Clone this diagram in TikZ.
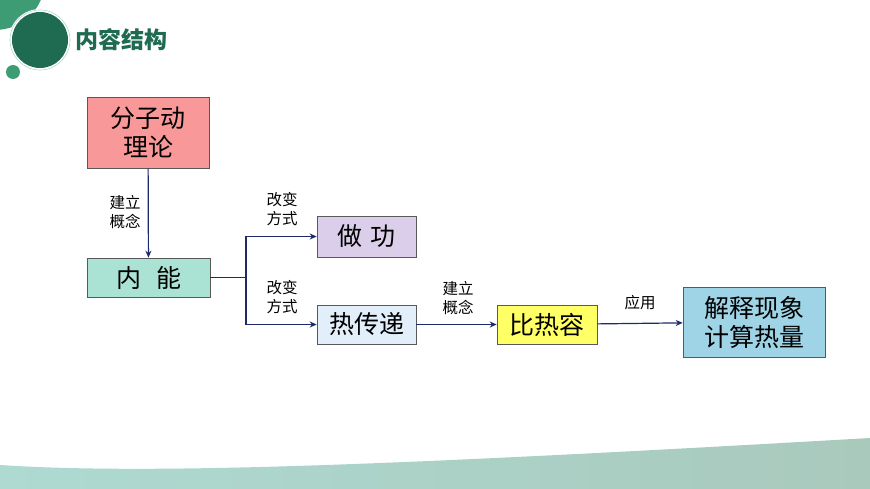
\documentclass[tikz,border=0pt]{standalone}
\usepackage{fontspec}
\setmainfont{Noto Sans CJK SC}
\usetikzlibrary{arrows.meta}
\definecolor{dg}{HTML}{1E6B52}
\definecolor{lg}{HTML}{3E9C74}
\definecolor{nv}{HTML}{1F2A6B}
\definecolor{w1}{HTML}{AEDAD2}
\definecolor{w2}{HTML}{A9C9BC}
\tikzset{
 box/.style={draw=gray!70!black,line width=0.6pt,minimum width=#1,inner sep=0pt,font=\fontsize{25}{29}\selectfont,align=center},
 arr/.style={nv,line width=1.2pt,-{Stealth[length=7pt,width=6pt]}},
 lbl/.style={font=\fontsize{15.5}{19}\selectfont,align=center}
}
\begin{document}
\begin{tikzpicture}[x=1pt,y=-1pt]
\useasboundingbox (0,0) rectangle (870,489);
\fill[white] (0,0) rectangle (870,489);
% header
\fill[lg] (-5,-20) circle[radius=50];
\fill[white] (40,40) circle[radius=31];
\fill[dg] (40,40) circle[radius=28];
\draw[white!60!lg,line width=0.6pt] (40,40) circle[radius=30];
\fill[lg] (13,72) circle[radius=7];
\node[anchor=west,text=dg,font=\fontsize{23}{26}\selectfont\bfseries] (title) at (72,40) {内容结构};
% bottom wave
\shade[left color=w1, right color=w2] (0,465) .. controls (150,475) and (400,465) .. (870,438) -- (870,489) -- (0,489) -- cycle;
% nodes
\node[box=122pt,minimum height=71pt,fill={rgb,255:red,248;green,152;blue,152}] (a) at (148,132.5) {分子动\\理论};
\node[box=123pt,minimum height=39pt,fill={rgb,255:red,170;green,226;blue,212}] (b) at (148.5,277.5) {内\hspace{0.6em}能};
\node[box=99pt,minimum height=41pt,fill={rgb,255:red,218;green,206;blue,234}] (c) at (366.5,236.5) {做\hspace{0.3em}功};
\node[box=99pt,minimum height=39pt,fill={rgb,255:red,226;green,238;blue,250}] (d) at (366.5,324.5) {热传递};
\node[box=100pt,minimum height=39pt,fill={rgb,255:red,255;green,255;blue,102}] (e) at (547,324.5) {比热容};
\node[box=142pt,minimum height=70pt,fill={rgb,255:red,158;green,212;blue,230}] (f) at (754,322) {解释现象\\计算热量};
\coordinate (j) at (246,277.5);
% connectors
\draw[arr] (a) -- (b);
\draw[nv,line width=1.2pt] (b.east) -- (j);
\draw[arr] (j) |- (c.west);
\draw[arr] (j) |- (d.west);
\draw[arr] (d) -- (e);
\draw[arr] (e) -- (f);
% labels
\node[lbl] (l1) at (125,212.5) {建立\\概念};
\node[lbl] (l2) at (282,209) {改变\\方式};
\node[lbl] (l3) at (282,297) {改变\\方式};
\node[lbl] (l4) at (458,298.5) {建立\\概念};
\node[lbl] (l5) at (640,303) {应用};
\end{tikzpicture}
\end{document}
